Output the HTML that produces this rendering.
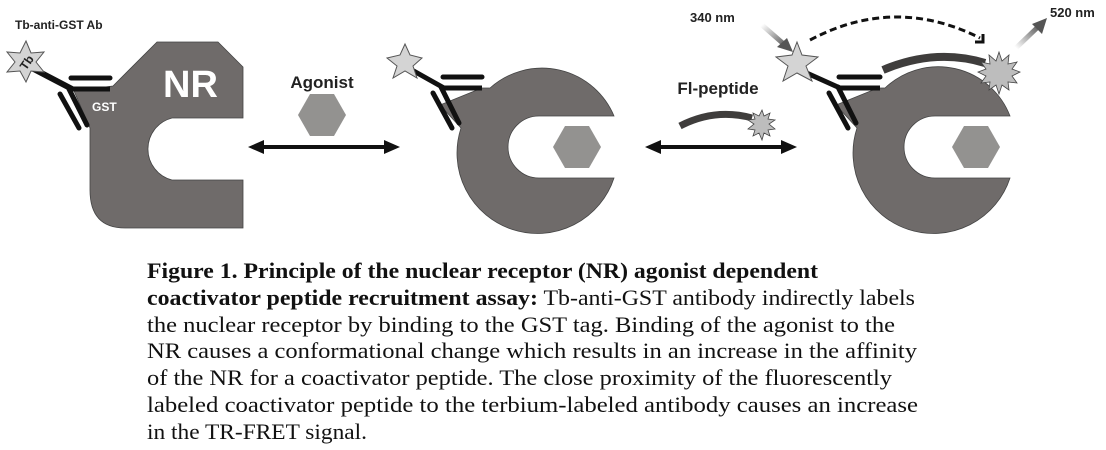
<!DOCTYPE html>
<html><head><meta charset="utf-8"><style>
html,body{margin:0;padding:0;background:#fff;}
svg{display:block;}
.lab{font-family:"Liberation Sans",Arial,sans-serif;font-weight:bold;}
.cap{font-family:"Liberation Serif",serif;font-size:22px;fill:#111;}
</style></head><body>
<svg width="1106" height="450" viewBox="0 0 1106 450" xmlns="http://www.w3.org/2000/svg">
<defs>
<linearGradient id="g1" x1="0" y1="0" x2="1" y2="1"><stop offset="0" stop-color="#fff"/><stop offset="1" stop-color="#555"/></linearGradient>
<linearGradient id="g2" x1="0" y1="1" x2="1" y2="0"><stop offset="0" stop-color="#fff"/><stop offset="1" stop-color="#555"/></linearGradient>
</defs>

<!-- Panel 1 NR -->
<path d="M157,42 L218,42 L243,67 L243,118 L172,118 A32,32 0 0 0 172,180 L243,180 L243,228 L125,228 Q90,228 90,190 L90,128 L74,91 L113,86 Z" fill="#6f6b6a" stroke="#444" stroke-width="0.8"/>
<text x="163" y="97" class="lab" font-size="38" fill="#fff">NR</text>
<text x="92" y="111" class="lab" font-size="12" fill="#fff">GST</text>
<!-- antibody 1 -->
<line x1="28" y1="66" x2="72" y2="89" stroke="#111" stroke-width="6"/>
<line x1="72" y1="89" x2="110" y2="89" stroke="#111" stroke-width="5"/>
<line x1="71" y1="78" x2="110" y2="78" stroke="#111" stroke-width="5" stroke-linecap="round"/>
<line x1="69" y1="89" x2="87" y2="125" stroke="#111" stroke-width="5" stroke-linecap="round"/>
<line x1="60" y1="94" x2="79" y2="128" stroke="#111" stroke-width="5" stroke-linecap="round"/>
<polygon points="26,41 31,53 44,52 36,62 44,72 31,71 26,82 20,71 7,72 15,62 7,52 20,53" fill="#d4d4d4" stroke="#555" stroke-width="1"/>
<text x="26" y="67" class="lab" font-size="12" fill="#222" transform="rotate(-55 26 62)" text-anchor="middle">Tb</text>
<text x="15" y="29" class="lab" font-size="12" fill="#222">Tb-anti-GST Ab</text>

<!-- arrow 1 -->
<line x1="258" y1="147" x2="390" y2="147" stroke="#111" stroke-width="4"/>
<polygon points="248,147 264,140 264,154" fill="#111"/>
<polygon points="400,147 384,140 384,154" fill="#111"/>
<text x="322" y="88" class="lab" font-size="17" fill="#222" text-anchor="middle">Agonist</text>
<polygon points="310,94 334,94 346,115 334,136 310,136 298,115" fill="#939290"/>

<!-- Panel 2 -->
<path d="M490,88 L482,88 L440,105 L461,128 A78,78 0 1 0 614,178 L539,178 A31,31 0 0 1 539,116 L614,116 A78,78 0 0 0 490,88 Z" fill="#6f6b6a" stroke="#444" stroke-width="0.8"/>
<polygon points="565,126 589,126 601,147 589,168 565,168 553,147" fill="#939290"/>
<line x1="403" y1="65" x2="444" y2="88" stroke="#111" stroke-width="5"/>
<line x1="442" y1="88" x2="482" y2="88" stroke="#111" stroke-width="5"/>
<line x1="443" y1="77" x2="482" y2="77" stroke="#111" stroke-width="5" stroke-linecap="round"/>
<line x1="441" y1="87" x2="459" y2="123" stroke="#111" stroke-width="5" stroke-linecap="round"/>
<line x1="433" y1="93" x2="452" y2="128" stroke="#111" stroke-width="5" stroke-linecap="round"/>
<polygon points="405,44 410,55 422,58 413,66 417,78 405,71 393,78 397,66 387,58 400,55" fill="#d4d4d4" stroke="#555" stroke-width="1"/>

<!-- arrow 2 -->
<line x1="655" y1="147" x2="787" y2="147" stroke="#111" stroke-width="4"/>
<polygon points="645,147 661,140 661,154" fill="#111"/>
<polygon points="797,147 781,140 781,154" fill="#111"/>
<text x="718" y="94" class="lab" font-size="17" fill="#222" text-anchor="middle">Fl-peptide</text>
<path d="M680,126 Q715,108 752,118" fill="none" stroke="#3f3d3c" stroke-width="7"/>
<polygon points="762,110 764,116 770,113 768,119 775,120 769,124 775,129 768,130 770,136 764,133 762,140 759,133 753,136 755,130 748,129 754,124 748,120 755,119 753,113 759,116" fill="#bdbdbd" stroke="#444" stroke-width="0.8"/>

<!-- Panel 3 -->
<path d="M885,88 L878,88 L836,105 L857,128 A77,77 0 1 0 1010,178 L935,178 A31,31 0 0 1 935,116 L1010,116 A77,77 0 0 0 885,88 Z" fill="#6f6b6a" stroke="#444" stroke-width="0.8"/>
<polygon points="964,126 988,126 1000,147 988,168 964,168 952,147" fill="#939290"/>
<line x1="800" y1="70" x2="840" y2="88" stroke="#111" stroke-width="5"/>
<line x1="838" y1="88" x2="880" y2="88" stroke="#111" stroke-width="5"/>
<line x1="839" y1="77" x2="880" y2="77" stroke="#111" stroke-width="5" stroke-linecap="round"/>
<line x1="838" y1="87" x2="856" y2="123" stroke="#111" stroke-width="5" stroke-linecap="round"/>
<line x1="829" y1="93" x2="848" y2="128" stroke="#111" stroke-width="5" stroke-linecap="round"/>
<path d="M883,72 Q935,50 985,66" fill="none" stroke="#fff" stroke-width="12"/>
<path d="M883,70 Q935,48 985,63" fill="none" stroke="#3f3d3c" stroke-width="8"/>
<polygon points="999,52 1002,61 1009,55 1008,64 1017,62 1012,69 1020,72 1012,76 1017,83 1008,82 1009,90 1002,85 999,94 996,85 989,90 990,82 981,83 986,76 978,72 986,69 981,62 990,64 989,55 996,61" fill="#bdbdbd" stroke="#444" stroke-width="0.8"/>
<polygon points="797,42 802,55 818,57 806,66 812,81 797,73 783,81 788,66 776,57 792,55" fill="#d4d4d4" stroke="#555" stroke-width="1"/>
<path d="M810,40 Q895,-5 980,38" fill="none" stroke="#111" stroke-width="3" stroke-dasharray="7,4"/>
<polyline points="975,42 983,42 983,34" fill="none" stroke="#111" stroke-width="3"/>
<!-- light arrows -->
<line x1="762" y1="25" x2="786" y2="46" stroke="url(#g1)" stroke-width="5"/>
<polygon points="793,52 777,47 787,38" fill="#555"/>
<line x1="1016" y1="48" x2="1040" y2="25" stroke="url(#g2)" stroke-width="5"/>
<polygon points="1047,18 1042,34 1032,24" fill="#555"/>
<text x="690" y="22" class="lab" font-size="13" fill="#222">340 nm</text>
<text x="1050" y="17" class="lab" font-size="13" fill="#222">520 nm</text>

<!-- caption -->
<text class="cap" x="147" y="278" font-weight="bold" textLength="671" lengthAdjust="spacingAndGlyphs">Figure 1. Principle of the nuclear receptor (NR) agonist dependent</text>
<text class="cap" x="147" y="305" textLength="768" lengthAdjust="spacingAndGlyphs"><tspan font-weight="bold">coactivator peptide recruitment assay:</tspan> Tb-anti-GST antibody indirectly labels</text>
<text class="cap" x="147" y="332" textLength="748" lengthAdjust="spacingAndGlyphs">the nuclear receptor by binding to the GST tag. Binding of the agonist to the</text>
<text class="cap" x="147" y="358" textLength="770" lengthAdjust="spacingAndGlyphs">NR causes a conformational change which results in an increase in the affinity</text>
<text class="cap" x="147" y="385" textLength="745" lengthAdjust="spacingAndGlyphs">of the NR for a coactivator peptide. The close proximity of the fluorescently</text>
<text class="cap" x="147" y="412" textLength="771" lengthAdjust="spacingAndGlyphs">labeled coactivator peptide to the terbium-labeled antibody causes an increase</text>
<text class="cap" x="147" y="439" textLength="220" lengthAdjust="spacingAndGlyphs">in the TR-FRET signal.</text>
</svg>
</body></html>
